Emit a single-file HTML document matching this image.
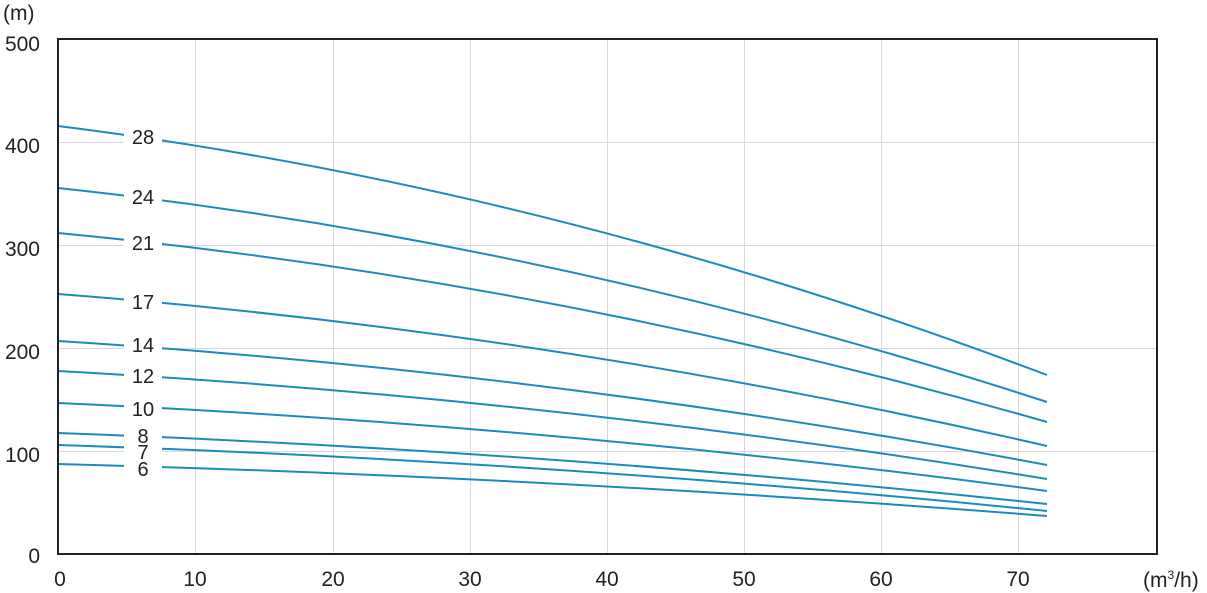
<!DOCTYPE html>
<html><head><meta charset="utf-8"><style>
html,body{margin:0;padding:0;background:#fff;}
svg{display:block;font-family:"Liberation Sans",Arial,sans-serif;}
</style></head><body>
<svg width="1207" height="593" viewBox="0 0 1207 593" xmlns="http://www.w3.org/2000/svg">
<g stroke="#d9d9d9" stroke-width="1">
<line x1="195.5" y1="39" x2="195.5" y2="554"/>
<line x1="333.5" y1="39" x2="333.5" y2="554"/>
<line x1="470.5" y1="39" x2="470.5" y2="554"/>
<line x1="607.5" y1="39" x2="607.5" y2="554"/>
<line x1="744.5" y1="39" x2="744.5" y2="554"/>
<line x1="881.5" y1="39" x2="881.5" y2="554"/>
<line x1="1018.5" y1="39" x2="1018.5" y2="554"/>
<line x1="58" y1="451.5" x2="1157" y2="451.5"/>
<line x1="58" y1="348.5" x2="1157" y2="348.5"/>
<line x1="58" y1="245.5" x2="1157" y2="245.5"/>
<line x1="58" y1="142.5" x2="1157" y2="142.5"/>
</g>
<g fill="none" stroke="#1a8bbf" stroke-width="2">
<path d="M58 126 Q552 188 1047 375"/>
<path d="M58 188 Q552 241 1047 402"/>
<path d="M58 233 Q552 280 1047 422"/>
<path d="M58 294 Q552 332 1047 446"/>
<path d="M58 341 Q552 372 1047 465"/>
<path d="M58 371 Q552 398 1047 479"/>
<path d="M58 403 Q552 425 1047 491"/>
<path d="M58 433 Q552 451 1047 504"/>
<path d="M58 445 Q552 461 1047 511"/>
<path d="M58 464 Q552 477 1047 516"/>
</g>
<g fill="#fff">
<rect x="124" y="122" width="38" height="24"/>
<rect x="124" y="184" width="38" height="22"/>
<rect x="124" y="230" width="38" height="22"/>
<rect x="124" y="289" width="38" height="22"/>
<rect x="124" y="333" width="38" height="22"/>
<rect x="124" y="364" width="38" height="22"/>
<rect x="124" y="396" width="38" height="22"/>
<rect x="124" y="426" width="38" height="50"/>
</g>
<g font-size="20" fill="#222" text-anchor="middle">
<text x="143" y="144">28</text>
<text x="143" y="204">24</text>
<text x="143" y="250">21</text>
<text x="143" y="309">17</text>
<text x="143" y="352">14</text>
<text x="143" y="383">12</text>
<text x="143" y="416">10</text>
<text x="143" y="443">8</text>
<text x="143" y="459">7</text>
<text x="143" y="476">6</text>
</g>
<rect x="58" y="39" width="1099" height="515" fill="none" stroke="#222" stroke-width="2"/>
<g font-size="21" fill="#222" text-anchor="end">
<text x="40" y="563">0</text>
<text x="40" y="462">100</text>
<text x="40" y="359">200</text>
<text x="40" y="256">300</text>
<text x="40" y="153">400</text>
<text x="40" y="51">500</text>
</g>
<text x="3" y="20" font-size="21" fill="#222">(m)</text>
<g font-size="21" fill="#222" text-anchor="middle">
<text x="60" y="586">0</text>
<text x="195" y="586">10</text>
<text x="333" y="586">20</text>
<text x="470" y="586">30</text>
<text x="607" y="586">40</text>
<text x="744" y="586">50</text>
<text x="881" y="586">60</text>
<text x="1018" y="586">70</text>
</g>
<text x="1143" y="587" font-size="21" fill="#222">(m<tspan font-size="12" dy="-8">3</tspan><tspan dy="8">/h)</tspan></text>
</svg>
</body></html>
